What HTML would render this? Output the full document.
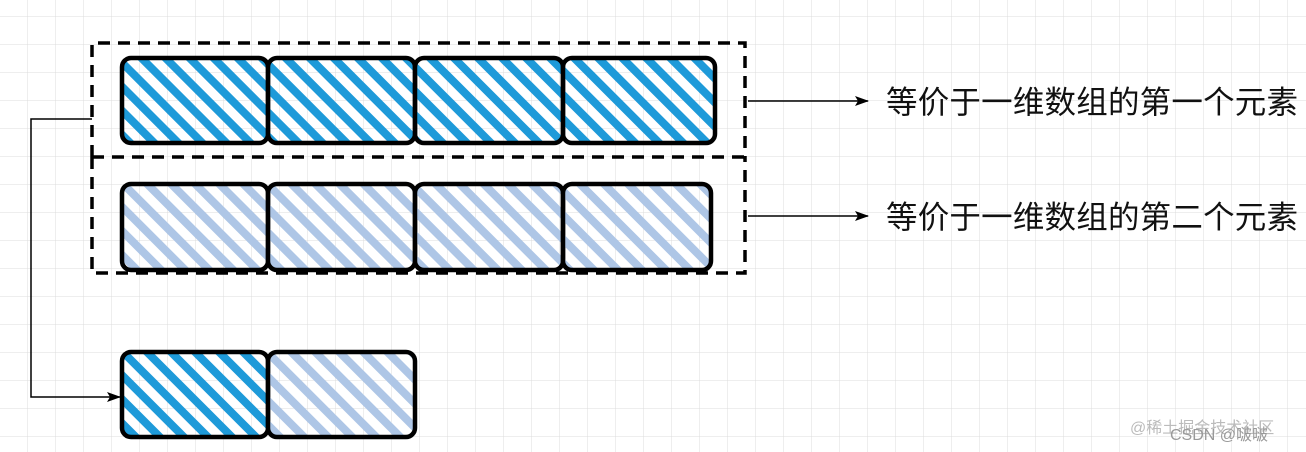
<!DOCTYPE html>
<html><head><meta charset="utf-8"><style>
html,body{margin:0;padding:0;background:#fff}
svg{display:block}
text{font-family:"Liberation Sans","Noto Sans CJK SC",sans-serif}
</style></head><body>
<svg width="1306" height="452" xmlns="http://www.w3.org/2000/svg">
<defs>
<pattern id="g" width="28" height="28" patternUnits="userSpaceOnUse" x="27" y="16">
<path d="M0 0H28M0 0V28" stroke="#dcdcdc" stroke-width="1" fill="none"/>
</pattern>
<pattern id="h1" width="17" height="17" patternUnits="userSpaceOnUse" patternTransform="rotate(-45)">
<line x1="8" y1="0" x2="8" y2="17" stroke="#1e9ad9" stroke-width="8"/>
</pattern>
<pattern id="h2" width="17" height="17" patternUnits="userSpaceOnUse" patternTransform="rotate(-45)">
<line x1="8" y1="0" x2="8" y2="17" stroke="#aec6e6" stroke-width="8"/>
</pattern>
<marker id="a" markerWidth="14" markerHeight="10" refX="13" refY="5" orient="auto" markerUnits="userSpaceOnUse">
<path d="M0 0L14 5L0 10L3 5Z" fill="#000"/>
</marker>
</defs>
<rect width="1306" height="452" fill="url(#g)"/>
<g stroke="#000" stroke-width="3.5" stroke-dasharray="12,8" fill="none">
<path d="M92 157V43H745V157"/>
<path d="M92 157V273H745V157"/>
<path d="M92 157H745"/>
</g>
<g stroke="#000" stroke-width="4.5">
<rect x="122" y="58" width="146" height="85" rx="9" fill="url(#h1)"/>
<rect x="268" y="58" width="147" height="85" rx="9" fill="url(#h1)"/>
<rect x="415" y="58" width="148" height="85" rx="9" fill="url(#h1)"/>
<rect x="563" y="58" width="152" height="85" rx="9" fill="url(#h1)"/>
<rect x="122" y="184" width="146" height="86" rx="9" fill="url(#h2)"/>
<rect x="268" y="184" width="147" height="86" rx="9" fill="url(#h2)"/>
<rect x="415" y="184" width="148" height="86" rx="9" fill="url(#h2)"/>
<rect x="563" y="184" width="148" height="86" rx="9" fill="url(#h2)"/>
<rect x="122" y="352" width="146" height="85" rx="9" fill="url(#h1)"/>
<rect x="268" y="352" width="147" height="85" rx="9" fill="url(#h2)"/>
</g>
<g stroke="#000" stroke-width="1.5" fill="none">
<path d="M748 101H868" marker-end="url(#a)"/>
<path d="M748 216H868" marker-end="url(#a)"/>
<path d="M92 119H31V397H120" marker-end="url(#a)"/>
</g>
<text x="886" y="113" font-size="31.5" fill="#111" textLength="412">等价于一维数组的第一个元素</text>
<text x="886" y="228" font-size="31.5" fill="#111" textLength="412">等价于一维数组的第二个元素</text>
<text x="1130" y="433" font-size="16" fill="#bbb">@稀土掘金技术社区</text>
<text x="1170" y="440" font-size="16" fill="#999">CSDN @啵啵</text>
</svg>
</body></html>
